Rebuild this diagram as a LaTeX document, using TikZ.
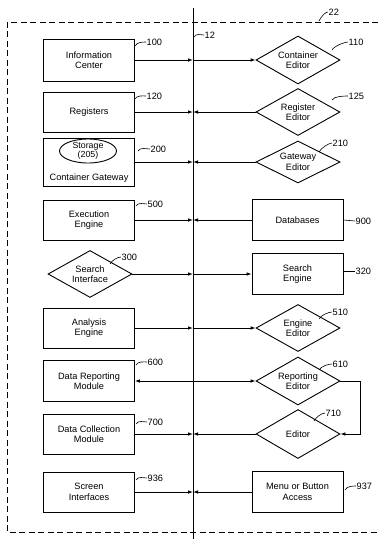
\documentclass[tikz,border=0pt]{standalone}
\usepackage{fontspec}
\setmainfont{Liberation Sans}
\usetikzlibrary{shapes.geometric,arrows.meta,calc}
\begin{document}
\begin{tikzpicture}[x=1pt,y=-1pt,
  every node/.style={font=\fontsize{9.2}{10.5}\selectfont},
  blk/.style={draw,line width=0.9pt,minimum width=91pt,align=center,inner sep=1pt},
  dia/.style={draw,line width=0.9pt,diamond,aspect=1.75,minimum width=84pt,minimum height=48pt,align=center,inner sep=0pt},
  arr/.style={line width=0.9pt,-{Latex[length=5pt,width=3.6pt]}},
  lbl/.style={inner sep=0.5pt,anchor=west},
  ld/.style={line width=0.6pt},
  dsh/.style={line width=0.8pt,dash pattern=on 6pt off 3.5pt}]
\useasboundingbox (0,0) rectangle (378,539);
% frame and center line
\draw[dsh] (378,22) -- (7,22) -- (7,532) -- (378,532);
\coordinate (vtop) at (193,8);
\coordinate (vbot) at (193,539);
\draw[line width=0.8pt] (vtop) -- (vbot);
% left column
\node[blk,minimum height=42pt] (info) at (89,60) {Information\\Center};
\node[blk,minimum height=40pt] (reg) at (89,112) {Registers};
\node[blk,minimum height=48pt] (gw) at (89,162) {};
\node[draw,line width=0.9pt,ellipse,minimum width=57pt,minimum height=23pt,inner sep=0pt,align=center,font=\fontsize{8.8}{9}\selectfont] (stor) at (88,151) {Storage\\(205)};
\node (gwt) at (89,178) {Container Gateway};
\node[blk,minimum height=40pt] (exec) at (89,220) {Execution\\Engine};
\node[dia,minimum width=84pt,minimum height=47pt] (sint) at (90,274) {Search\\Interface};
\node[blk,minimum height=40pt] (anal) at (89,328) {Analysis\\Engine};
\node[blk,minimum height=41pt] (drep) at (89,381) {Data Reporting\\Module};
\node[blk,minimum height=40pt] (dcol) at (89,434) {Data Collection\\Module};
\node[blk,minimum height=40pt] (scr) at (89,492) {Screen\\Interfaces};
% right column
\node[dia] (cedit) at (298,60) {Container\\Editor};
\node[dia,minimum height=47pt] (redit) at (298,112) {Register\\Editor};
\node[dia,minimum height=42pt] (gedit) at (298,162) {Gateway\\Editor};
\node[blk,minimum height=41pt] (db) at (297.5,220) {Databases};
\node[blk,minimum height=41pt] (seng) at (297.5,274) {Search\\Engine};
\node[dia,minimum height=47pt] (eedit) at (298,328) {Engine\\Editor};
\node[dia] (repedit) at (298,381) {Reporting\\Editor};
\node[dia,minimum height=49pt] (edit) at (298,434) {Editor};
\node[blk,minimum height=41pt] (menu) at (297.5,492) {Menu or Button\\Access};
% connectors
\draw[arr] (info.east) -- (info.east -| vtop);
\draw[arr] (info.east -| vtop) -- (cedit.west);
\draw[arr] (reg.east) -- (reg.east -| vtop);
\draw[arr] (redit.west) -- (redit.west -| vtop);
\draw[arr] (gw.east) -- (gw.east -| vtop);
\draw[arr] (gedit.west) -- (gedit.west -| vtop);
\draw[arr] (exec.east) -- (exec.east -| vtop);
\draw[arr] (db.west) -- (db.west -| vtop);
\draw[arr] (sint.east) -- (sint.east -| vtop);
\draw[arr] (sint.east -| vtop) -- (seng.west);
\draw[arr] (anal.east) -- (anal.east -| vtop);
\draw[arr] (anal.east -| vtop) -- (eedit.west);
\draw[line width=0.9pt,{Latex[length=5pt,width=3.6pt]}-{Latex[length=5pt,width=3.6pt]}] (drep.east) -- (repedit.west);
\draw[arr] (repedit.east) -- ++(20,0) |- (edit.east);
\draw[arr] (dcol.east) -- (dcol.east -| vtop);
\draw[arr] (edit.west) -- (edit.west -| vtop);
\draw[arr] (scr.east) -- (scr.east -| vtop);
\draw[arr] (menu.west) -- (menu.west -| vtop);
% reference labels
\newcommand{\refl}[4]{%
  \node[lbl] (#1) at (#3) {#2};
  \draw[ld] (#4) .. controls +(2,-4) and +(-3,0) .. (#1.west);}
\refl{l22}{22}{328,12}{319,21}
\refl{l12}{12}{204,35}{194,37}
\refl{l100}{100}{146,42}{135,46}
\refl{l110}{110}{348,42}{332,50}
\refl{l120}{120}{146,96}{135,99}
\refl{l125}{125}{348,96}{332,100}
\refl{l200}{200}{150,149}{138,151}
\refl{l210}{210}{332,143}{319,152}
\refl{l500}{500}{147,204}{136,206}
\refl{l300}{300}{121,257}{110,264}
\refl{l510}{510}{332,312}{319,319}
\refl{l600}{600}{147,362}{136,365}
\refl{l610}{610}{332,364}{319,370}
\refl{l700}{700}{147,422}{136,424}
\refl{l710}{710}{325,413}{314,421}
\refl{l936}{936}{147,478}{136,480}
\refl{l937}{937}{356,486}{345,490}
% right-pointing leaders for 900 and 320
\node[lbl] (l900) at (355,221) {900};
\draw[ld] (db.east) -- (l900.west);
\node[lbl] (l320) at (355,271) {320};
\draw[ld] (seng.east |- l320) -- (l320.west);
\end{tikzpicture}
\end{document}
